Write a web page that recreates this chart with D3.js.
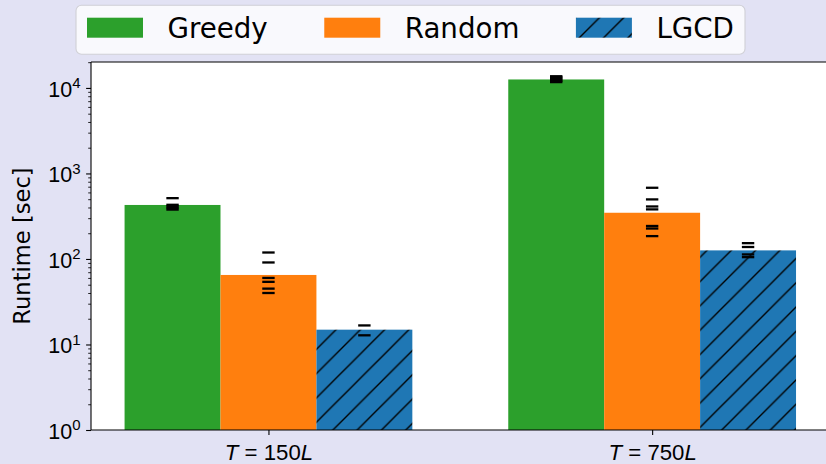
<!DOCTYPE html>
<html>
<head>
<meta charset="utf-8">
<script src="https://cdn.jsdelivr.net/npm/d3@7"></script>
<style>
  html, body { margin: 0; padding: 0; background: #e2e2f4; }
  svg { display: block; font-family: "DejaVu Sans", sans-serif; }
</style>
</head>
<body>
<svg id="chart" width="826" height="464"></svg>
<script>
// Runtime of three solvers for two signal lengths (log scale)
const categories = ["T = 150L", "T = 750L"];
const methods = ["Greedy", "Random", "LGCD"];
const greedyRuntime = [428, 12560];
const randomRuntime = [65, 347];
const lgcdRuntime = [14.9, 126];
// individual runs drawn as short dashes over each bar
const greedyRuns = [[514, 430, 412, 395, 378], [13700, 13300, 12900, 12500, 12100, 11700]];
const randomRuns = [[119, 91, 60, 54, 45, 40], [680, 497, 411, 380, 243, 227, 185]];
const lgcdRuns = [[16.7, 12.8], [153, 138, 113, 105]];
const yTickValues = [1, 10, 100, 1000, 10000];
const yTickExponents = ["0", "1", "2", "3", "4"];
const yLabel = "Runtime [sec]";

const colors = ["#2ca02c", "#ff7f0e", "#1f77b4"];
const hatched = [false, false, true];
const runtimes = [greedyRuntime, randomRuntime, lgcdRuntime];
const runs = [greedyRuns, randomRuns, lgcdRuns];

const svg = d3.select("#chart");
const plotLeft = 91, plotRight = 829.6, plotTop = 62, plotBottom = 430;
const barWidth = 0.25;

const x = d3.scaleLinear().domain([-0.4625, 1.4625]).range([plotLeft, plotRight]);
const y = d3.scaleLog().domain([1, 2.01e4]).range([plotBottom, plotTop]);

// hatch pattern for the LGCD bars
const defs = svg.append("defs");
const hs = 24.3;
const pat = defs.append("pattern")
  .attr("id", "hatch")
  .attr("patternUnits", "userSpaceOnUse")
  .attr("x", 9.6).attr("y", 0)
  .attr("width", hs).attr("height", hs);
pat.append("rect").attr("width", hs).attr("height", hs).attr("fill", colors[2]);
[[-hs, hs, hs, -hs], [0, hs, hs, 0], [0, 2 * hs, 2 * hs, 0]].forEach(([x1, y1, x2, y2]) => {
  pat.append("line")
    .attr("x1", x1).attr("y1", y1).attr("x2", x2).attr("y2", y2)
    .attr("stroke", "#000").attr("stroke-width", 1.4);
});

// plot area
svg.append("rect")
  .attr("x", plotLeft).attr("y", plotTop)
  .attr("width", plotRight - plotLeft).attr("height", plotBottom - plotTop)
  .attr("fill", "#fff");

// bars
methods.forEach((m, mi) => {
  const off = (mi - 1) * barWidth;
  svg.append("g").selectAll("rect")
    .data(runtimes[mi])
    .join("rect")
    .attr("x", (d, i) => x(i + off - barWidth / 2))
    .attr("width", x(barWidth) - x(0))
    .attr("y", d => y(d))
    .attr("height", d => y(1) - y(d))
    .attr("fill", hatched[mi] ? "url(#hatch)" : colors[mi]);
});

// individual runs
methods.forEach((m, mi) => {
  const off = (mi - 1) * barWidth;
  const pts = [];
  runs[mi].forEach((vals, ci) => vals.forEach(v => pts.push({ c: ci, v })));
  svg.append("g").selectAll("line")
    .data(pts)
    .join("line")
    .attr("x1", d => x(d.c + off) - 6.2)
    .attr("x2", d => x(d.c + off) + 6.2)
    .attr("y1", d => y(d.v))
    .attr("y2", d => y(d.v))
    .attr("stroke", "#000")
    .attr("stroke-width", 2.3);
});

// y axis (major + minor ticks)
const minorTicks = [];
for (let e = 0; e <= 4; e++) for (let k = 2; k <= 9; k++) {
  const v = k * Math.pow(10, e);
  if (v <= y.domain()[1]) minorTicks.push(v);
}
const yMinor = svg.append("g").attr("transform", `translate(${plotLeft},0)`)
  .call(d3.axisLeft(y).tickValues(minorTicks).tickFormat("").tickSize(2.8).tickSizeOuter(0));
yMinor.select(".domain").remove();
yMinor.selectAll(".tick line").attr("stroke", "#000").attr("stroke-width", 0.85);

const yMajor = svg.append("g").attr("transform", `translate(${plotLeft},0)`)
  .call(d3.axisLeft(y).tickValues(yTickValues).tickFormat("").tickSize(4.9).tickSizeOuter(0));
yMajor.select(".domain").remove();
yMajor.selectAll(".tick line").attr("stroke", "#000").attr("stroke-width", 1.1);
yMajor.selectAll(".tick").each(function (d, i) {
  const t = d3.select(this).append("text")
    .attr("x", -10.5).attr("y", 8.2)
    .attr("text-anchor", "end")
    .attr("fill", "#000")
    .style("font-size", "21.5px");
  t.append("tspan").text("10");
  t.append("tspan").attr("dy", -8.4).style("font-size", "15px").text(yTickExponents[i]);
});

// x axis
const xAxis = svg.append("g").attr("transform", `translate(0,${plotBottom})`)
  .call(d3.axisBottom(x).tickValues([0, 1]).tickFormat("").tickSize(4.9).tickSizeOuter(0));
xAxis.select(".domain").remove();
xAxis.selectAll(".tick line").attr("stroke", "#000").attr("stroke-width", 1.1);
xAxis.selectAll(".tick").each(function (d, i) {
  const t = d3.select(this).append("text")
    .attr("y", 30).attr("text-anchor", "middle").attr("fill", "#000")
    .style("font-size", "22.2px");
  // letters in math italic, relation symbol padded, digits upright
  const parts = categories[i].replace(/\s/g, "").split(/([A-Za-z=])/).filter(s => s.length);
  parts.forEach((p, pi) => {
    const ts = t.append("tspan").text(p);
    if (/^[A-Za-z]$/.test(p)) ts.style("font-style", "italic");
    if (p === "=" || (pi > 0 && parts[pi - 1] === "=")) ts.attr("dx", 6.2);
  });
});

// spines
const spine = svg.append("g").attr("stroke", "#000").attr("stroke-width", 1.1).attr("fill", "none");
spine.append("line").attr("x1", plotLeft).attr("x2", plotLeft).attr("y1", plotTop).attr("y2", plotBottom);
spine.append("line").attr("x1", plotLeft).attr("x2", plotRight).attr("y1", plotTop).attr("y2", plotTop);
spine.append("line").attr("x1", plotLeft).attr("x2", plotRight).attr("y1", plotBottom).attr("y2", plotBottom);
spine.append("line").attr("x1", plotRight).attr("x2", plotRight).attr("y1", plotTop).attr("y2", plotBottom);

// y label
svg.append("text")
  .attr("transform", `translate(29.5,${(plotTop + plotBottom) / 2}) rotate(-90)`)
  .attr("text-anchor", "middle")
  .attr("fill", "#000")
  .style("font-size", "22.6px")
  .text(yLabel);

// legend
const lg = svg.append("g");
lg.append("rect")
  .attr("x", 76).attr("y", 5.3).attr("width", 669).attr("height", 49)
  .attr("rx", 5.5).attr("ry", 5.5)
  .attr("fill", "#f9f9fd").attr("stroke", "#d0d0d6").attr("stroke-width", 1.1);
let cx = 87;
methods.forEach((m, mi) => {
  lg.append("rect")
    .attr("x", cx).attr("y", 17.7).attr("width", 56).attr("height", 20)
    .attr("fill", hatched[mi] ? "url(#hatch)" : colors[mi]);
  const t = lg.append("text")
    .attr("x", cx + 56 + 24.5).attr("y", 37.5)
    .attr("fill", "#000").style("font-size", "27.7px")
    .text(m);
  cx = cx + 56 + 24.5 + t.node().getComputedTextLength() + 56.5;
});
</script>
</body>
</html>
